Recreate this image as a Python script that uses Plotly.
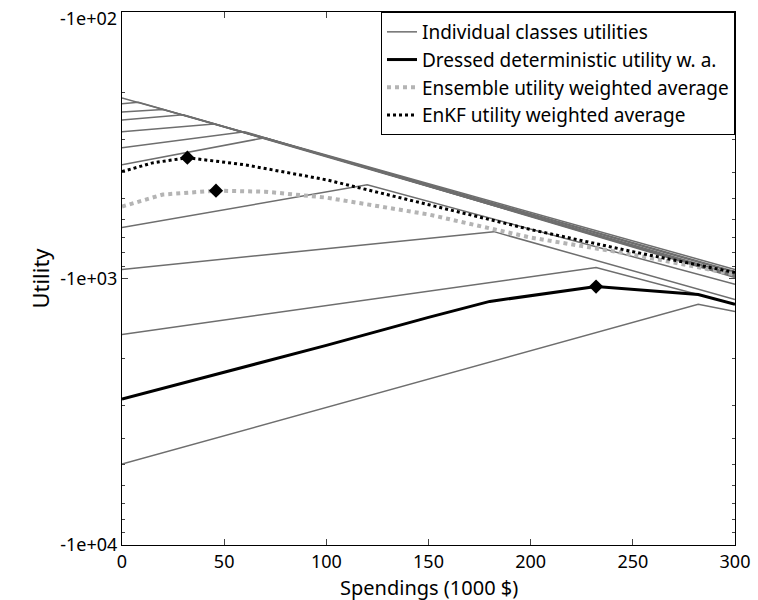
import plotly.graph_objects as go

# Individual classes: x points and utility magnitudes (utility = -value)
cls_x = [[0, 300], [0, 8, 300], [0, 20, 300], [0, 30, 300], [0, 45, 300],
         [0, 60, 300], [0, 70, 300], [0, 120, 300], [0, 182, 300],
         [0, 232, 300], [0, 282, 300]]
cls_y = [[210, 925], [221, 218, 942], [237, 232, 950], [254, 243, 966],
         [281, 263, 975], [323, 281, 984], [374, 296, 991], [644, 445, 1052],
         [925, 667, 1199], [1622, 910, 1250], [4977, 1250, 1330]]

enkf_x = [0, 15, 32, 60, 100, 150, 200, 250, 300]
enkf_y = [397, 368, 352, 374, 426, 528, 655, 793, 950]
ens_x = [0, 20, 46, 70, 100, 150, 200, 250, 300]
ens_y = [537, 484, 468, 472, 497, 575, 702, 813, 966]
dr_x = [0, 50, 100, 150, 180, 232, 282, 300]
dr_y = [2838, 2249, 1782, 1400, 1219, 1072, 1148, 1250]
opt_x = [32, 46, 232]
opt_y = [352, 468, 1072]

fig = go.Figure()
for i, (xs, ys) in enumerate(zip(cls_x, cls_y)):
    fig.add_trace(go.Scatter(x=xs, y=ys, mode="lines", line=dict(color="#6e6e6e", width=1.5),
                             name="Individual classes utilities", showlegend=(i == 0)))
fig.add_trace(go.Scatter(x=dr_x, y=dr_y, mode="lines", line=dict(color="black", width=3),
                         name="Dressed deterministic utility w. a."))
fig.add_trace(go.Scatter(x=ens_x, y=ens_y, mode="lines", line=dict(color="#b4b4b4", width=4, dash="dot"),
                         name="Ensemble utility weighted average"))
fig.add_trace(go.Scatter(x=enkf_x, y=enkf_y, mode="lines", line=dict(color="black", width=3, dash="dot"),
                         name="EnKF utility weighted average"))
fig.add_trace(go.Scatter(x=opt_x, y=opt_y, mode="markers", showlegend=False,
                         marker=dict(symbol="diamond", size=11, color="black")))

fig.update_layout(
    width=758, height=600, plot_bgcolor="white", paper_bgcolor="white",
    margin=dict(l=122, r=23, t=12, b=55, autoexpand=False),
    font=dict(family="Noto Sans", size=18, color="black"),
    legend=dict(x=1, y=1, xanchor="right", yanchor="top", bordercolor="black", borderwidth=1,
                bgcolor="white", font=dict(size=19), tracegroupgap=0),
    xaxis=dict(range=[0, 300], tickvals=[0, 50, 100, 150, 200, 250, 300], showgrid=False,
               showline=True, linecolor="black", mirror="ticks", ticks="inside", ticklen=6,
               zeroline=False, automargin=False),
    yaxis=dict(type="log", range=[4.0005, 1.9995], tickvals=[100, 1000, 10000],
               ticktext=["", "-1e+03", "-1e+04"], showgrid=False, automargin=False,
               showline=True, linecolor="black", mirror="ticks", ticks="inside", ticklen=6,
               minor=dict(ticks="inside", ticklen=3, tickvals=[200, 300, 400, 500, 600, 700, 800, 900,
                          2000, 3000, 4000, 5000, 6000, 7000, 8000, 9000]),
               title=dict(text="Utility", standoff=4)),
    annotations=[dict(text="Spendings (1000 $)", xref="paper", yref="paper", x=0.5, y=0,
                      yanchor="top", yshift=-27, showarrow=False, font=dict(size=20)),
                 dict(text="-1e+02", xref="paper", yref="paper", x=0, y=1, xanchor="right",
                      yanchor="middle", xshift=-3, yshift=-6, showarrow=False, font=dict(size=18))],
)
fig.write_html("out.html", config={"displayModeBar": False},
               post_script="document.body.style.margin='0';document.body.style.overflow='hidden';")
